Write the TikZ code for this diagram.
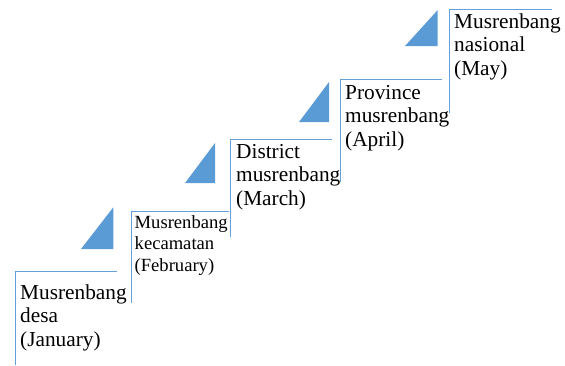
\documentclass[tikz,border=0pt]{standalone}
\usepackage{fontspec}
\setmainfont{Liberation Serif}
\definecolor{stepblue}{RGB}{91,155,213}
\definecolor{steprule}{RGB}{100,160,218}
\tikzset{
  steptext/.style={anchor=base west,inner sep=0pt,align=left,font=\fontsize{21.3}{23.5}\selectfont},
  smalltext/.style={steptext,font=\fontsize{18.6}{21.5}\selectfont},
  riser/.style={steprule,line width=1pt},
}
\begin{document}
\begin{tikzpicture}[x=1pt,y=-1pt]
  \useasboundingbox (0,0) rectangle (565,365);
  % steps
  \draw[riser] (15.7,365) |- (117,271);
  \draw[riser] (131,303) |- (229,211);
  \draw[riser] (230.7,237) |- (332,139);
  \draw[riser] (340,182) |- (442,79);
  \draw[riser] (449,113) |- (552,9);
  % arrows between steps
  \fill[stepblue] (81,249) -- (113.3,249) -- (113.3,207.3) -- cycle;
  \fill[stepblue] (185,183) -- (215,183) -- (215,143) -- cycle;
  \fill[stepblue] (299,122) -- (329,122) -- (329,82) -- cycle;
  \fill[stepblue] (405,46) -- (437.7,46) -- (437.7,10) -- cycle;
  % labels (anchored on the last line)
  \node[steptext] (desa) at (20,346) {Musrenbang\\desa\\(January)};
  \node[smalltext] (kecamatan) at (134.5,271) {Musrenbang\\kecamatan\\(February)};
  \node[steptext] (district) at (236,205) {District\\musrenbang\\(March)};
  \node[steptext] (province) at (345,146) {Province\\musrenbang\\(April)};
  \node[steptext] (nasional) at (454,75) {Musrenbang\\nasional\\(May)};
\end{tikzpicture}
\end{document}
